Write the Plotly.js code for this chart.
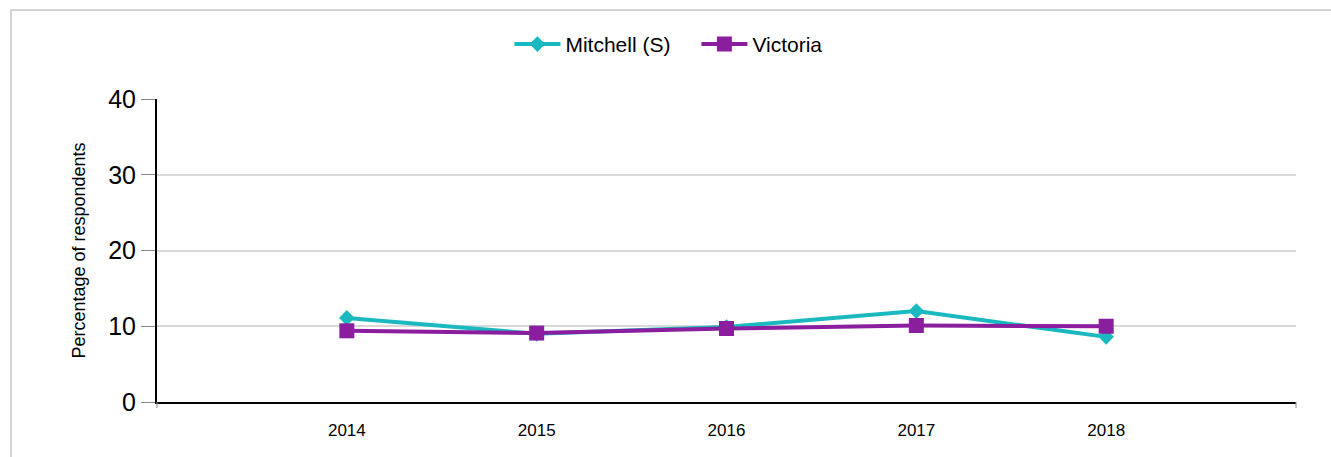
<!DOCTYPE html>
<html>
<head>
<meta charset="utf-8">
<script src="https://cdn.plot.ly/plotly-3.0.1.min.js"></script>
<style>
  body { margin: 0; background: #fff; }
  #frame { position: absolute; left: 10px; top: 9px; width: 1340px; height: 470px;
           border-left: 2px solid #d4d4d4; border-top: 2px solid #d4d4d4; }
  #chart { position: absolute; left: 0; top: 0; width: 1331px; height: 457px; }
</style>
</head>
<body>
<div id="frame"></div>
<div id="chart"></div>
<script>
const years = [2014, 2015, 2016, 2017, 2018];
const mitchell = [11.1, 9.0, 9.9, 12.0, 8.6];
const victoria = [9.4, 9.1, 9.7, 10.1, 10.0];
const yTicks = [0, 10, 20, 30, 40];

const traces = [
    {
        x: years, y: mitchell, name: 'Mitchell (S)',
        type: 'scatter', mode: 'lines+markers',
        line: { color: '#1ab9bf', width: 4 },
        marker: { symbol: 'diamond', size: 12, color: '#1ab9bf' }
    },
    {
        x: years, y: victoria, name: 'Victoria',
        type: 'scatter', mode: 'lines+markers',
        line: { color: '#8a1e9e', width: 4 },
        marker: { symbol: 'square', size: 15, color: '#8a1e9e' }
    }
];

const layout = {
    width: 1331, height: 457,
    margin: { l: 157, r: 35, t: 99, b: 55 },
    paper_bgcolor: 'rgba(0,0,0,0)',
    plot_bgcolor: 'rgba(0,0,0,0)',
    font: { family: 'Liberation Sans, Arial, sans-serif', color: '#000' },
    showlegend: true,
    legend: {
        orientation: 'h', x: 0.3094, xanchor: 'left', y: 1.18, yanchor: 'middle',
        font: { size: 21 }, itemwidth: 46, entrywidth: 126, entrywidthmode: 'pixels'
    },
    xaxis: {
        range: [2013, 2019],
        tickvals: years,
        ticktext: years.map(String),
        ticks: 'outside', ticklen: 12, tickcolor: 'rgba(0,0,0,0)',
        tickfont: { size: 17 },
        showgrid: false, zeroline: false,
        showline: true, linecolor: '#000', linewidth: 2
    },
    yaxis: {
        range: [0, 40],
        tickvals: yTicks,
        ticks: 'outside', ticklen: 14, tickcolor: '#888', tickwidth: 1,
        tickfont: { size: 25 },
        showgrid: true, gridcolor: '#d9d9d9', gridwidth: 2,
        zeroline: false,
        showline: true, linecolor: '#000', linewidth: 2,
        title: { text: 'Percentage of respondents', font: { size: 18 }, standoff: 18 }
    },
    shapes: [
        { type: 'line', xref: 'paper', yref: 'paper', x0: 0, x1: 0, y0: 0, y1: -0.02,
          line: { color: '#888', width: 1 } },
        { type: 'line', xref: 'paper', yref: 'paper', x0: 1, x1: 1, y0: 0, y1: -0.02,
          line: { color: '#888', width: 1 } }
    ]
};

Plotly.newPlot('chart', traces, layout, { displayModeBar: false, staticPlot: true });
</script>
</body>
</html>
